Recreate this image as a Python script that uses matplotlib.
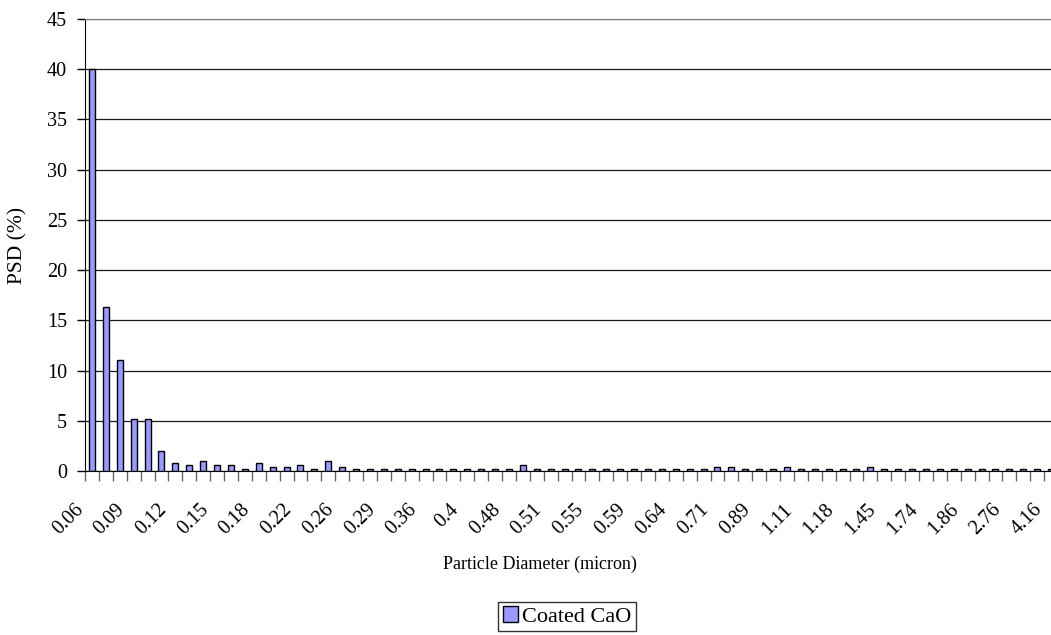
import numpy as np
import matplotlib.pyplot as plt
import matplotlib.transforms as mtransforms
from matplotlib.patches import Patch

plt.rcParams['font.family'] = ['Liberation Serif', 'DejaVu Serif']

# PSD (%) per size class, 70 classes
psd = [40.0, 16.3, 11.1, 5.2, 5.2, 2.0, 0.8, 0.6, 1.0, 0.6,
       0.6, 0.2, 0.8, 0.4, 0.4, 0.6, 0.2, 1.0, 0.4, 0.2,
       0.2, 0.2, 0.2, 0.2, 0.2, 0.2, 0.2, 0.2, 0.2, 0.2,
       0.2, 0.6, 0.2, 0.2, 0.2, 0.2, 0.2, 0.2, 0.2, 0.2,
       0.2, 0.2, 0.2, 0.2, 0.2, 0.4, 0.4, 0.2, 0.2, 0.2,
       0.4, 0.2, 0.2, 0.2, 0.2, 0.2, 0.4, 0.2, 0.2, 0.2,
       0.2, 0.2, 0.2, 0.2, 0.2, 0.2, 0.2, 0.2, 0.2, 0.2]
# diameter labels shown on every third class
tick_labels = ['0.06', '0.09', '0.12', '0.15', '0.18', '0.22', '0.26', '0.29',
               '0.36', '0.4', '0.48', '0.51', '0.55', '0.59', '0.64', '0.71',
               '0.89', '1.11', '1.18', '1.45', '1.74', '1.86', '2.76', '4.16']

x = np.arange(len(psd))

fig = plt.figure(figsize=(10.51, 6.35), dpi=100)
ax = fig.add_axes([85 / 1051, 164 / 635, 973 / 1051, 452 / 635])

ax.bar(x, psd, width=0.43, color='#9999FF', edgecolor='black', linewidth=1.0,
       zorder=3)

ax.set_xlim(-0.5, len(psd) - 0.5)
ax.set_ylim(0, 45)
ax.set_yticks(np.arange(0, 46, 5))
ax.yaxis.grid(True, color='#1a1a1a', linewidth=0.9, zorder=0)

# category boundaries get the tick marks, labels sit on every third class
ax.set_xticks(np.arange(-0.5, len(psd), 1.0), minor=True)
ax.set_xticks(x[::3])
ax.set_xticklabels(tick_labels, rotation=45, ha='right', va='top',
                   rotation_mode='anchor')
ax.tick_params(axis='x', which='both', direction='out', length=7, width=1,
               color='#666666')
ax.tick_params(axis='x', which='major', length=0, pad=21, labelsize=14.5)
ax.tick_params(axis='y', direction='out', length=6, width=1, labelsize=14.5,
               pad=7, color='black')

# pull the slanted labels left so they end just before each class centre
shift = mtransforms.ScaledTranslation(-18 / 100, 0, fig.dpi_scale_trans)
for lbl in ax.get_xticklabels():
    lbl.set_transform(lbl.get_transform() + shift)

ax.spines['right'].set_visible(False)
ax.spines['top'].set_color('#808080')
ax.spines['left'].set_color('black')
ax.spines['bottom'].set_color('black')

fig.text(18 / 1051, 1 - 245 / 635, 'PSD (%)', rotation=90,
         ha='center', va='center', fontsize=15.5)
fig.text(540 / 1051, 1 - 564 / 635, 'Particle Diameter (micron)',
         ha='center', va='center', fontsize=13)

handle = Patch(facecolor='#9999FF', edgecolor='black', label='Coated CaO')
leg = fig.legend(handles=[handle], loc='upper center',
                 bbox_to_anchor=(567 / 1051, 1 - 602 / 635),
                 frameon=True, fancybox=False, edgecolor='black', fontsize=16,
                 handlelength=0.7, handleheight=0.7, handletextpad=0.15,
                 borderpad=0.2, borderaxespad=0)
leg.get_frame().set_linewidth(1.0)

fig.savefig('out.png', dpi=100)
